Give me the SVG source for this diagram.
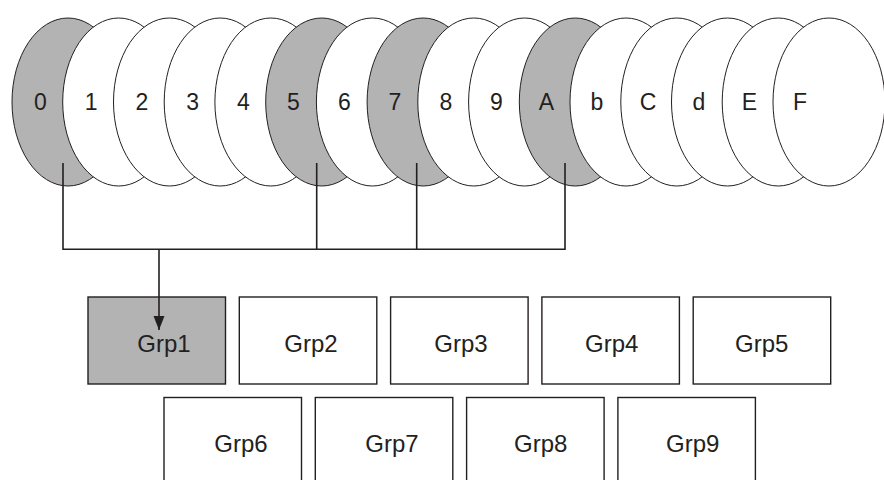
<svg xmlns="http://www.w3.org/2000/svg" width="884" height="480" viewBox="0 0 884 480">
<style>
.e{fill:#fff;stroke:#231f20;stroke-width:1}
.b{fill:#fff;stroke:#231f20;stroke-width:1.4}
.e.g,.b.g{fill:#b3b3b3}
.t{font-family:"Liberation Sans",Arial,sans-serif;font-size:23px;fill:#231f20;text-anchor:middle}
.bt{font-family:"Liberation Sans",Arial,sans-serif;font-size:24px;fill:#231f20;text-anchor:middle}
.c{fill:none;stroke:#231f20;stroke-width:1.6}
</style>
<defs>
<marker id="ah" markerWidth="15" markerHeight="12" refX="14" refY="5.5" orient="auto" markerUnits="userSpaceOnUse">
<path d="M0,0 L14,5.5 L0,11 z" fill="#231f20"/>
</marker>
</defs>
<g id="n0"><ellipse class="e g" cx="68" cy="102" rx="56" ry="84"/><text class="t" x="40.5" y="110">0</text></g>
<g id="n1"><ellipse class="e" cx="118.7" cy="102" rx="56" ry="84"/><text class="t" x="91.2" y="110">1</text></g>
<g id="n2"><ellipse class="e" cx="169.5" cy="102" rx="56" ry="84"/><text class="t" x="142" y="110">2</text></g>
<g id="n3"><ellipse class="e" cx="220.2" cy="102" rx="56" ry="84"/><text class="t" x="192.7" y="110">3</text></g>
<g id="n4"><ellipse class="e" cx="270.9" cy="102" rx="56" ry="84"/><text class="t" x="243.4" y="110">4</text></g>
<g id="n5"><ellipse class="e g" cx="321.7" cy="102" rx="56" ry="84"/><text class="t" x="293.5" y="110">5</text></g>
<g id="n6"><ellipse class="e" cx="372.4" cy="102" rx="56" ry="84"/><text class="t" x="344.5" y="110">6</text></g>
<g id="n7"><ellipse class="e g" cx="423.1" cy="102" rx="56" ry="84"/><text class="t" x="395" y="110">7</text></g>
<g id="n8"><ellipse class="e" cx="473.8" cy="102" rx="56" ry="84"/><text class="t" x="446" y="110">8</text></g>
<g id="n9"><ellipse class="e" cx="524.6" cy="102" rx="56" ry="84"/><text class="t" x="496.5" y="110">9</text></g>
<g id="nA"><ellipse class="e g" cx="575.3" cy="102" rx="56" ry="84"/><text class="t" x="546.5" y="110">A</text></g>
<g id="nb"><ellipse class="e" cx="626" cy="102" rx="56" ry="84"/><text class="t" x="597" y="110">b</text></g>
<g id="nC"><ellipse class="e" cx="676.8" cy="102" rx="56" ry="84"/><text class="t" x="648" y="110">C</text></g>
<g id="nd"><ellipse class="e" cx="727.5" cy="102" rx="56" ry="84"/><text class="t" x="699" y="110">d</text></g>
<g id="nE"><ellipse class="e" cx="778.2" cy="102" rx="56" ry="84"/><text class="t" x="749.5" y="110">E</text></g>
<g id="nF"><ellipse class="e" cx="829" cy="102" rx="56" ry="84"/><text class="t" x="800" y="110">F</text></g>
<g id="grp1"><rect class="b g" x="88" y="297" width="137.5" height="87"/><text class="bt" x="164" y="352">Grp1</text></g>
<g id="grp2"><rect class="b" x="239.3" y="297" width="137.5" height="87"/><text class="bt" x="311" y="352">Grp2</text></g>
<g id="grp3"><rect class="b" x="390.6" y="297" width="137.5" height="87"/><text class="bt" x="461" y="352">Grp3</text></g>
<g id="grp4"><rect class="b" x="541.9" y="297" width="137.5" height="87"/><text class="bt" x="611.7" y="352">Grp4</text></g>
<g id="grp5"><rect class="b" x="693.2" y="297" width="137.5" height="87"/><text class="bt" x="761.7" y="352">Grp5</text></g>
<g id="grp6"><rect class="b" x="164" y="397.5" width="137.5" height="87"/><text class="bt" x="241" y="452">Grp6</text></g>
<g id="grp7"><rect class="b" x="315.3" y="397.5" width="137.5" height="87"/><text class="bt" x="392" y="452">Grp7</text></g>
<g id="grp8"><rect class="b" x="466.6" y="397.5" width="137.5" height="87"/><text class="bt" x="540.7" y="452">Grp8</text></g>
<g id="grp9"><rect class="b" x="617.9" y="397.5" width="137.5" height="87"/><text class="bt" x="692.7" y="452">Grp9</text></g>
<g id="connectors">
<path class="c" d="M63,163 V249.3 M316.7,163 V249.3 M416.7,163 V249.3 M565,163 V249.3 M62.2,249.3 H565.8"/>
<path class="c" d="M159,249.3 V330" marker-end="url(#ah)"/>
</g>
</svg>
